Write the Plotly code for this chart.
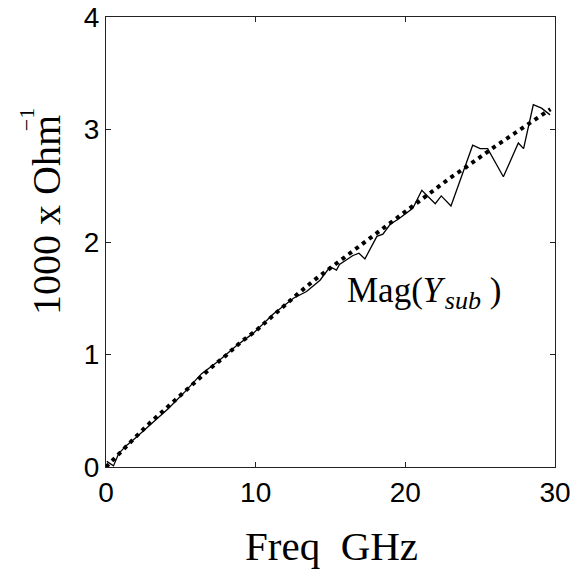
import plotly.graph_objects as go

# Measured data (solid line)
freq_meas = [0.05, 0.5, 0.85, 1.35, 1.95, 3.05, 4.17, 5.28, 6.39, 7.5, 8.73, 9.85,
             11.18, 12.52, 13.4, 14.3, 14.97, 15.4, 15.6, 16.5, 16.9, 17.3, 18.1, 18.5,
             19.0, 19.5, 20.5, 21.1, 22.0, 22.4, 23.05, 24.5, 25.0, 25.5, 26.55, 27.55,
             27.9, 28.55, 29.1, 29.67]
mag_meas = [0.05, 0.01, 0.12, 0.19, 0.255, 0.39, 0.52, 0.67, 0.83, 0.94, 1.08, 1.19,
            1.36, 1.50, 1.56, 1.66, 1.78, 1.75, 1.80, 1.88, 1.90, 1.85, 2.05, 2.07,
            2.16, 2.20, 2.30, 2.46, 2.34, 2.41, 2.32, 2.86, 2.83, 2.83, 2.58, 2.88,
            2.83, 3.22, 3.19, 3.13]

# Model fit (dotted line)
freq_fit = [0, 1, 2, 3, 4, 5, 6, 7, 8, 9, 10, 11, 12, 13, 14, 15, 16, 17, 18, 19,
            20, 21, 22, 23, 24, 25, 26, 27, 28, 29, 29.7]
mag_fit = [0.0, 0.14, 0.27, 0.40, 0.52, 0.65, 0.77, 0.88, 0.99, 1.11, 1.21, 1.33,
           1.45, 1.56, 1.67, 1.77, 1.88, 1.98, 2.08, 2.18, 2.28, 2.38, 2.47, 2.57,
           2.66, 2.76, 2.85, 2.94, 3.03, 3.12, 3.18]

x_ticks = [0, 10, 20, 30]
y_ticks = [0, 1, 2, 3, 4]

x_title = "Freq&nbsp; GHz"
y_title = "1000 x Ohm"
y_title_sup = "−1"
curve_label = ("Mag(<i>Y</i><span style='font-size:10px'> </span>"
               "<i><sub><span style='font-size:26px'>sub</span></sub></i> )")

fig = go.Figure()
fig.add_trace(go.Scatter(x=freq_meas, y=mag_meas, mode="lines",
                         line=dict(color="black", width=1.3), showlegend=False))
fig.add_trace(go.Scatter(x=freq_fit, y=mag_fit, mode="lines",
                         line=dict(color="black", width=4, dash="4px,4.5px"),
                         showlegend=False))

serif = "Liberation Serif"
fig.add_annotation(x=16.0, y=1.55, xref="x", yref="y", xanchor="left", yanchor="middle",
                   text=curve_label, showarrow=False,
                   font=dict(family=serif, size=35, color="black"))
fig.add_annotation(x=0.502, y=-0.176, xref="paper", yref="paper",
                   xanchor="center", yanchor="middle", text=x_title, showarrow=False,
                   font=dict(family=serif, size=41, color="black"))
fig.add_annotation(x=-0.1325, y=0.559, xref="paper", yref="paper", textangle=-90,
                   xanchor="center", yanchor="middle", text=y_title, showarrow=False,
                   font=dict(family=serif, size=40, color="black"))
fig.add_annotation(x=-0.178, y=0.771, xref="paper", yref="paper", textangle=-90,
                   xanchor="center", yanchor="middle", text=y_title_sup, showarrow=False,
                   font=dict(family=serif, size=22, color="black"))

axis_common = dict(showgrid=False, zeroline=False, showline=True, linecolor="#222",
                   linewidth=1, mirror="ticks", ticks="inside", ticklen=5,
                   tickcolor="#222", automargin=False,
                   tickfont=dict(family="Liberation Sans", size=28, color="black"))

fig.update_xaxes(range=[0, 30], tickvals=x_ticks, **axis_common)
fig.update_yaxes(range=[0, 4], tickvals=y_ticks, **axis_common)

fig.update_layout(width=584, height=575, margin=dict(l=106, r=29, t=17, b=108),
                  plot_bgcolor="white", paper_bgcolor="white")

fig.write_html("out.html", config={"displayModeBar": False},
               post_script="document.body.style.margin='0px';")
